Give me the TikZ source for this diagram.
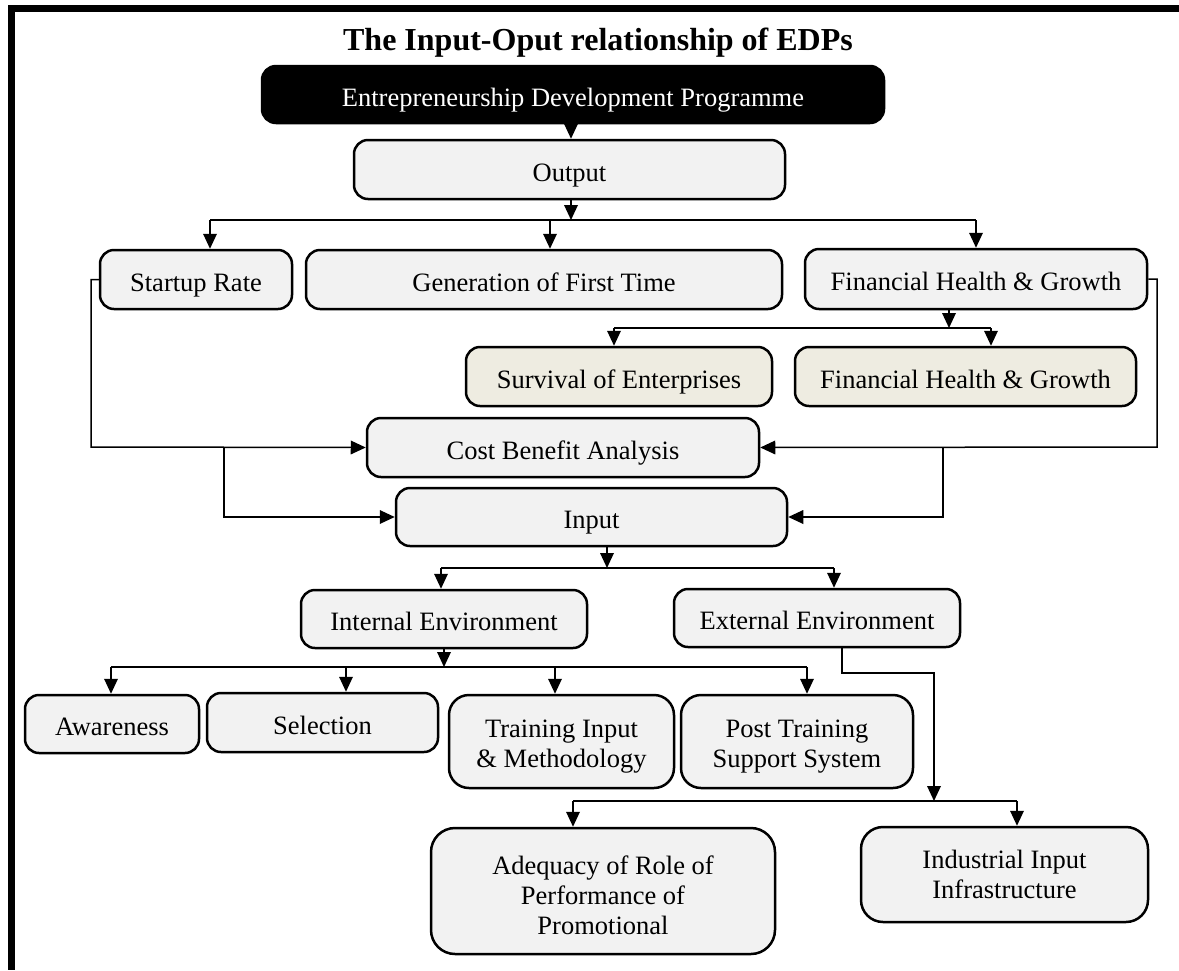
\documentclass[tikz,border=0pt]{standalone}
\usepackage{fontspec}
\setmainfont{Liberation Serif}
\usetikzlibrary{arrows.meta}
\definecolor{boxgray}{HTML}{F2F2F2}
\definecolor{boxtan}{HTML}{EEECE1}
\newcommand{\topstrut}{\rule{0pt}{13.5pt}}

\begin{document}
\begin{tikzpicture}[x=0.5pt,y=-0.5pt,
	base/.style={draw,line width=1.25pt,rounded corners=7pt,fill=boxgray,inner sep=0pt,align=center,font=\fontsize{13.25}{15}\selectfont},
	box/.style={base,execute at begin node={\rule[-3.5pt]{0pt}{18.7pt}}},
	tallbox/.style={base,rounded corners=10pt},
	tanbox/.style={box,fill=boxtan},
	arr/.style={-{Triangle[length=7.5pt,width=6.8pt]},line width=0.75pt},
	link/.style={line width=0.75pt}]
	\useasboundingbox (0,0) rectangle (1179,970);
	\draw[line width=3.5pt] (1179,8.5) -- (11.5,8.5) -- (11.5,970);
	\node[anchor=base,font=\fontsize{16}{19}\selectfont\bfseries] (title) at (598,50) {The Input-Oput relationship of EDPs};
	\node[box,fill=black,text=white,minimum width=311pt,minimum height=28.5pt] (edp) at (573,94.5) {Entrepreneurship Development Programme};
	\node[box,minimum width=215.5pt,minimum height=29.5pt] (output) at (569.5,169.5) {Output};
	\node[box,minimum width=96pt,minimum height=29.5pt] (startup) at (196,279.5) {Startup Rate};
	\node[box,minimum width=238pt,minimum height=29.5pt] (gen) at (544,279.5) {Generation of First Time};
	\node[box,minimum width=171pt,minimum height=30pt] (fhg) at (976,279) {Financial Health \& Growth};
	\node[tanbox,minimum width=153pt,minimum height=29.5pt] (surv) at (619,376.5) {Survival of Enterprises};
	\node[tanbox,minimum width=170.5pt,minimum height=29.5pt] (fhg2) at (965.5,376.5) {Financial Health \& Growth};
	\node[box,minimum width=196pt,minimum height=29.5pt] (cba) at (563,447.5) {Cost Benefit Analysis};
	\node[box,minimum width=195.5pt,minimum height=29pt] (input) at (591.5,517) {Input};
	\node[box,minimum width=143pt,minimum height=29pt] (internal) at (444,619) {Internal Environment};
	\node[box,minimum width=143pt,minimum height=29pt] (external) at (817,618) {External Environment};
	\node[box,minimum width=87pt,minimum height=29pt] (aware) at (112,724) {Awareness};
	\node[box,minimum width=115.5pt,minimum height=29.5pt] (select) at (322.5,722.5) {Selection};
	\node[tallbox,minimum width=112.5pt,minimum height=46.5pt] (training) at (561.5,741.5) {\topstrut Training Input\\\& Methodology};
	\node[tallbox,minimum width=116pt,minimum height=46.5pt] (post) at (797,741.5) {\topstrut Post Training\\Support System};
	\node[tallbox,rounded corners=12pt,minimum width=172pt,minimum height=63pt] (adequacy) at (603,891) {\topstrut Adequacy of Role of\\Performance of\\Promotional};
	\node[tallbox,rounded corners=11pt,minimum width=143.5pt,minimum height=47.5pt] (industrial) at (1004.5,874.5) {Industrial Input\\Infrastructure};

	\coordinate (outj) at (571,220);
	\coordinate (outl) at (210,220);
	\coordinate (outm) at (550,220);
	\coordinate (outr) at (976,220);
	\draw[arr] (edp.south -| outj) -- (output.north -| outj);
	\draw[arr] (output.south -| outj) -- (outj);
	\draw[link] (outl) -- (outr);
	\draw[arr] (outl) -- (startup.north -| outl);
	\draw[arr] (outm) -- (gen.north -| outm);
	\draw[arr] (outr) -- (fhg.north -| outr);

	\coordinate (fj) at (949,328);
	\coordinate (fl) at (614,328);
	\coordinate (fr) at (991,328);
	\draw[arr] (fhg.south -| fj) -- (fj);
	\draw[link] (fl) -- (fr);
	\draw[arr] (fl) -- (surv.north -| fl);
	\draw[arr] (fr) -- (fhg2.north -| fr);

	\coordinate (sl) at (91,447);
	\coordinate (cl) at (224,447);
	\coordinate (sr) at (1157,447);
	\coordinate (cr) at (943,447);
	\draw[arr] (startup.west) -| (sl) -- (cba.west);
	\draw[arr] (cl) |- (input.west);
	\draw[arr] (fhg.east) -| (sr) -- (cba.east);
	\draw[arr] (cr) |- (input.east);

	\coordinate (ij) at (607,568);
	\coordinate (il) at (441,568);
	\coordinate (ir) at (834,568);
	\draw[arr] (input.south -| ij) -- (ij);
	\draw[link] (il) -- (ir);
	\draw[arr] (il) -- (internal.north -| il);
	\draw[arr] (ir) -- (external.north -| ir);

	\coordinate (nj) at (444,667);
	\coordinate (n1) at (111,667);
	\coordinate (n2) at (346,667);
	\coordinate (n3) at (555,667);
	\coordinate (n4) at (807,667);
	\draw[arr] (internal.south -| nj) -- (nj);
	\draw[link] (n1) -- (n4);
	\draw[arr] (n1) -- (aware.north -| n1);
	\draw[arr] (n2) -- (select.north -| n2);
	\draw[arr] (n3) -- (training.north -| n3);
	\draw[arr] (n4) -- (post.north -| n4);

	\coordinate (ea) at (842,673);
	\coordinate (ej) at (934,801);
	\coordinate (el) at (573,801);
	\coordinate (er) at (1017,801);
	\draw[arr] (external.south -| ea) -- (ea) -| (ej);
	\draw[link] (el) -- (er);
	\draw[arr] (el) -- (adequacy.north -| el);
	\draw[arr] (er) -- (industrial.north -| er);
\end{tikzpicture}
\end{document}
